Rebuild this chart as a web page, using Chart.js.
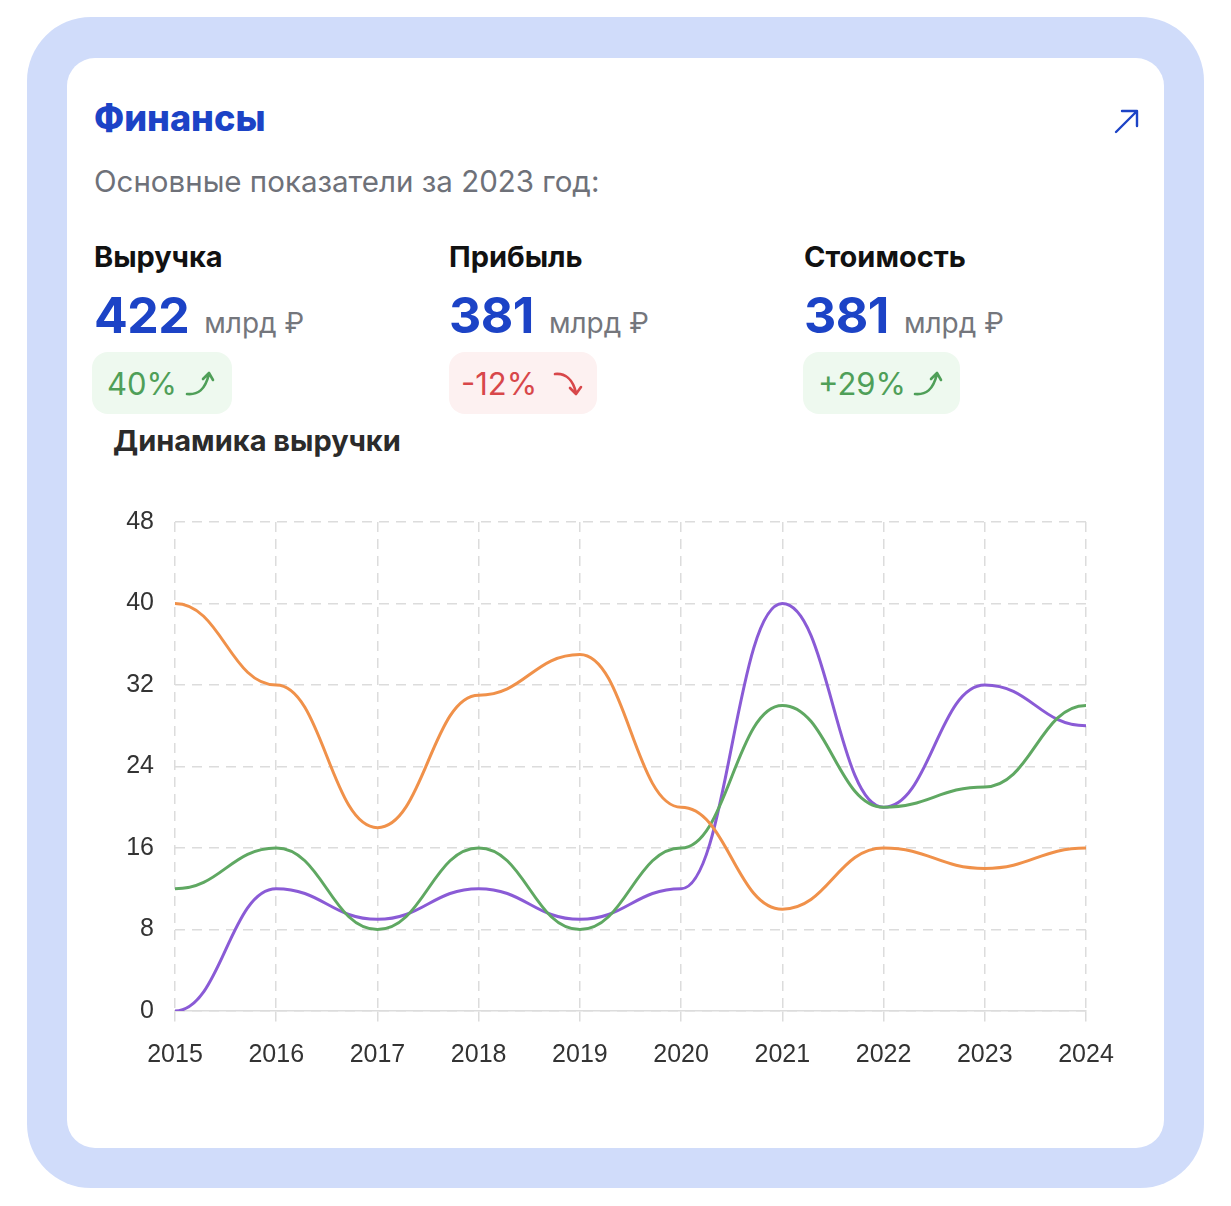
<!DOCTYPE html>
<html lang="ru">
<head>
    <meta charset="UTF-8">
    <script src="https://cdn.jsdelivr.net/npm/chart.js"></script>
    <title>Финансы</title>
    <style>
        html, body { margin: 0; padding: 0; background: #fff; }
        body { width: 1231px; height: 1206px; position: relative; font-family: Inter, "Noto Sans", sans-serif; overflow: hidden; }
        .frame { position: absolute; left: 27px; top: 17px; width: 1177px; height: 1171px; background: #d0dcfa; border-radius: 64px; }
        .card { position: absolute; left: 67px; top: 58px; width: 1097px; height: 1090px; background: #fff; border-radius: 28px; }
        .abs { position: absolute; line-height: 1; white-space: nowrap; }
        .title { left: 94px; top: 100px; font-size: 36px; font-weight: 800; color: #1c43c6; }
        .sub { left: 94px; top: 167px; font-size: 29.5px; color: #6e7179; }
        .label { top: 242px; font-size: 29px; font-weight: 700; color: #111; }
        .num { top: 290px; font-size: 50px; font-weight: 700; color: #1c43c6; letter-spacing: -0.5px; }
        .num small { font-size: 28px; font-weight: 400; color: #74767c; margin-left: 15px; letter-spacing: 0; }
        .badge { position: absolute; top: 352px; height: 62px; border-radius: 16px; }
        .badge.up { background: #eef9ef; }
        .badge.down { background: #fdf1f1; }
        .badge span { position: absolute; left: 15px; top: 16px; font-size: 31px; line-height: 1; }
        .badge.up span { color: #4f9f58; }
        .badge.down span { color: #d8474a; }
        .badge svg { position: absolute; top: 16px; }
        .dyn { left: 113px; top: 426px; font-size: 29px; font-weight: 700; color: #2b2b2b; }
        .box { position: absolute; left: 80px; top: 486px; width: 1060px; height: 594px; }
    </style>
</head>
<body>
    <div class="frame"></div>
    <div class="card"></div>

    <div class="abs title">Финансы</div>
    <svg style="position:absolute;left:1110px;top:104px" width="34" height="34" viewBox="0 0 34 34">
        <path d="M6 28 L27 7 M12 7 L27 7 L27 22" fill="none" stroke="#1c43c6" stroke-width="2.4" stroke-linecap="round" stroke-linejoin="round"/>
    </svg>
    <div class="abs sub">Основные показатели за 2023 год:</div>

    <div class="abs label" style="left:94px">Выручка</div>
    <div class="abs label" style="left:449px">Прибыль</div>
    <div class="abs label" style="left:804px">Стоимость</div>

    <div class="abs num" style="left:94px">422<small>млрд ₽</small></div>
    <div class="abs num" style="left:449px">381<small>млрд ₽</small></div>
    <div class="abs num" style="left:804px">381<small>млрд ₽</small></div>

    <div class="badge up" style="left:92px;width:140px">
        <span>40%</span>
        <svg style="left:92px" width="34" height="30" viewBox="0 0 34 30">
            <path d="M3 26 C14 27 21 22 25 6 M19 11 L25 5 L29 12" fill="none" stroke="#4f9f58" stroke-width="2.6" stroke-linecap="round" stroke-linejoin="round"/>
        </svg>
    </div>
    <div class="badge down" style="left:449px;width:148px">
        <span style="left:12px">-12%</span>
        <svg style="left:102px" width="34" height="30" viewBox="0 0 34 30">
            <path d="M4 6 C14 5 22 11 25 25 M19 20 L25 26 L30 19" fill="none" stroke="#d8474a" stroke-width="2.6" stroke-linecap="round" stroke-linejoin="round"/>
        </svg>
    </div>
    <div class="badge up" style="left:803px;width:157px">
        <span>+29%</span>
        <svg style="left:109px" width="34" height="30" viewBox="0 0 34 30">
            <path d="M3 26 C14 27 21 22 25 6 M19 11 L25 5 L29 12" fill="none" stroke="#4f9f58" stroke-width="2.6" stroke-linecap="round" stroke-linejoin="round"/>
        </svg>
    </div>

    <div class="abs dyn">Динамика выручки</div>

    <div class="box"><canvas id="finChart"></canvas></div>

    <script>
        const years = ['2015', '2016', '2017', '2018', '2019', '2020', '2021', '2022', '2023', '2024'];
        const orangeValues = [40, 32, 18, 31, 35, 20, 10, 16, 14, 16];
        const greenValues = [12, 16, 8, 16, 8, 16, 30, 20, 22, 30];
        const purpleValues = [0, 12, 9, 12, 9, 12, 40, 20, 32, 28];
        const yTicks = [0, 8, 16, 24, 32, 40, 48];

        // flat tangents at every point (bump-like smoothing)
        const ARM = 0.45;
        const bumpCurve = {
            id: 'bumpCurve',
            beforeDatasetDraw(chart, args) {
                const line = args.meta.dataset;
                const pts = args.meta.data;
                if (line.updateControlPoints) line.updateControlPoints(chart.chartArea);
                for (let i = 0; i < pts.length; i++) {
                    const p = pts[i], prev = pts[i - 1], next = pts[i + 1];
                    p.cp1x = prev ? p.x - (p.x - prev.x) * ARM : p.x;
                    p.cp1y = p.y;
                    p.cp2x = next ? p.x + (next.x - p.x) * ARM : p.x;
                    p.cp2y = p.y;
                }
                line._pointsUpdated = true;
                line._path = undefined;
            }
        };

        const gridColor = '#dcdcdc';
        const tickFont = { family: '"Liberation Sans", Arial, sans-serif', size: 25 };

        const ctx = document.getElementById('finChart').getContext('2d');
        const finChart = new Chart(ctx, {
            type: 'line',
            data: {
                labels: years,
                datasets: [
                    { label: 'Ряд 1', data: orangeValues, borderColor: '#f0914a' },
                    { label: 'Ряд 2', data: greenValues, borderColor: '#5fa862' },
                    { label: 'Ряд 3', data: purpleValues, borderColor: '#8a5bd6' }
                ].map(d => Object.assign(d, { borderWidth: 3, pointRadius: 0, tension: 0.4, fill: false }))
            },
            options: {
                responsive: true,
                maintainAspectRatio: false,
                animation: false,
                layout: { padding: { left: 0, right: 54, top: 8, bottom: 0 } },
                plugins: { legend: { display: false }, tooltip: { enabled: false } },
                scales: {
                    x: {
                        grid: { color: gridColor, lineWidth: 1.5, tickLength: 12, tickBorderDash: [10, 7] },
                        border: { display: true, color: gridColor, width: 1.5, dash: [10, 7] },
                        ticks: { color: '#333', font: tickFont, padding: 17, maxRotation: 0 },
                        afterFit(scale) { scale.height = 69; }
                    },
                    y: {
                        min: 0,
                        max: 48,
                        afterBuildTicks(scale) { scale.ticks = yTicks.map(v => ({ value: v })); },
                        grid: { color: gridColor, lineWidth: 1.5, drawTicks: false },
                        border: { display: false, dash: [10, 7] },
                        ticks: { color: '#333', font: tickFont, padding: 21 },
                        afterFit(scale) { scale.width = 95; }
                    }
                }
            },
            plugins: [bumpCurve]
        });
    </script>
</body>
</html>
